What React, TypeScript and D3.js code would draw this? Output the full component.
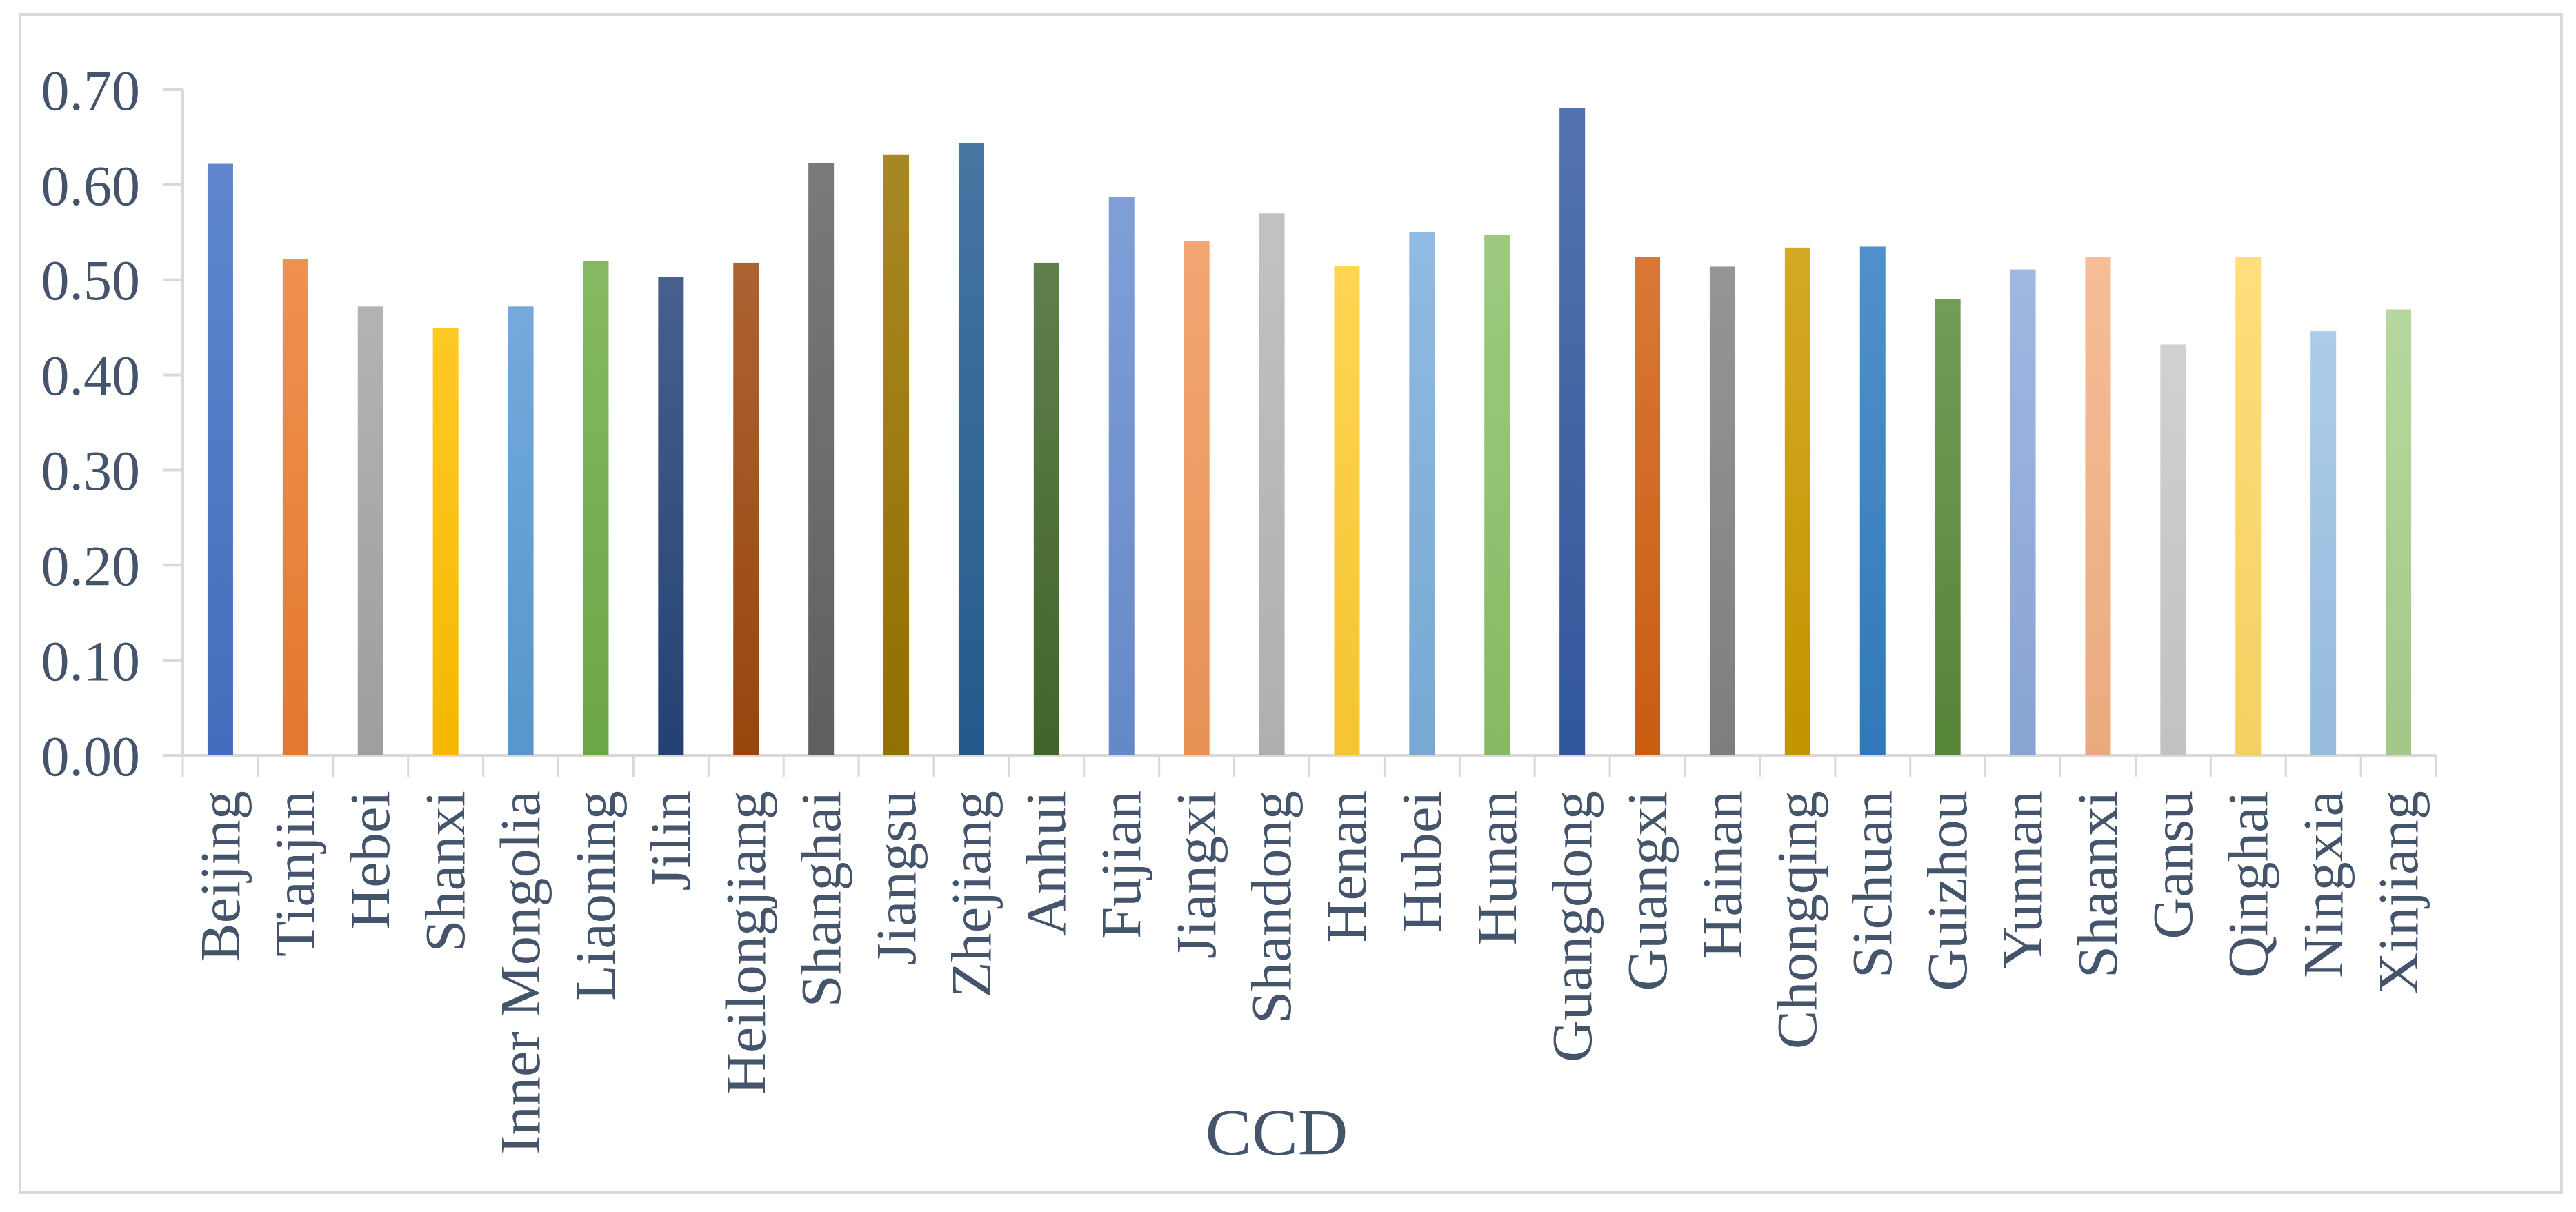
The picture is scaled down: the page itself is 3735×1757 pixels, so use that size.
import { useEffect } from 'react';
import * as d3 from 'd3';

// provinces along the x axis
const provinces = [
  'Beijing', 'Tianjin', 'Hebei', 'Shanxi', 'Inner Mongolia', 'Liaoning', 'Jilin',
  'Heilongjiang', 'Shanghai', 'Jiangsu', 'Zhejiang', 'Anhui', 'Fujian', 'Jiangxi',
  'Shandong', 'Henan', 'Hubei', 'Hunan', 'Guangdong', 'Guangxi', 'Hainan',
  'Chongqing', 'Sichuan', 'Guizhou', 'Yunnan', 'Shaanxi', 'Gansu', 'Qinghai',
  'Ningxia', 'Xinjiang',
];

// CCD values
const ccd = [
  0.622, 0.522, 0.472, 0.449, 0.472, 0.520, 0.503,
  0.518, 0.623, 0.632, 0.644, 0.518, 0.587, 0.541,
  0.570, 0.515, 0.550, 0.547, 0.681, 0.524, 0.514,
  0.534, 0.535, 0.480, 0.511, 0.524, 0.432, 0.524,
  0.446, 0.469,
];

// Office style "vary colours by point" palette
const barColors = [
  '#4472C4', '#ED7D31', '#A5A5A5', '#FFC000', '#5B9BD5', '#70AD47', '#264478',
  '#9E480E', '#636363', '#997300', '#255E91', '#43682B', '#698ED0', '#F1975A',
  '#B7B7B7', '#FFCD33', '#7CAFDD', '#8CC168', '#335AA1', '#D26012', '#848484',
  '#CC9A00', '#327DC2', '#5A8A39', '#8FAADC', '#F4B183', '#C9C9C9', '#FFD966',
  '#9DC3E6', '#A9D18E',
];

const yTicks = [0, 0.1, 0.2, 0.3, 0.4, 0.5, 0.6, 0.7];
const axisTitle = 'CCD';

const W = 3735;
const H = 1757;
const textColor = '#44546A';
const lineColor = '#D9D9D9';
const font = '"Liberation Serif", "Times New Roman", serif';

export default function App() {
  useEffect(() => {
    document.body.style.margin = '0';
    document.body.style.overflow = 'hidden';
  }, []);

  const margin = { left: 265, right: W - 3532, top: 130, bottom: H - 1095 };

  const x = d3.scaleBand<string>()
    .domain(provinces)
    .range([margin.left, W - margin.right])
    .padding(0);

  const y = d3.scaleLinear()
    .domain([0, 0.7])
    .range([H - margin.bottom, margin.top]);

  const bw = x.bandwidth();
  const barW = bw * 0.34;
  const fmt = d3.format('.2f');
  const y0 = y(0);

  return (
    <svg width={W} height={H} style={{ display: 'block', background: '#fff' }}>
      <defs>
        {barColors.map((c, i) => {
          const top = d3.interpolateRgb(c, '#ffffff')(0.15);
          const bottom = d3.color(c)!.darker(0.12).formatHex();
          return (
            <linearGradient key={i} id={`grad-${i}`} x1="0" y1="0" x2="0" y2="1">
              <stop offset="0%" stopColor={top} />
              <stop offset="100%" stopColor={bottom} />
            </linearGradient>
          );
        })}
      </defs>

      {/* chart border */}
      <rect x={29} y={21} width={3714 - 29} height={1729 - 21}
        fill="none" stroke={lineColor} strokeWidth={4} />

      {/* y axis line and ticks */}
      <line x1={margin.left} x2={margin.left} y1={y(0.7)} y2={y0}
        stroke={lineColor} strokeWidth={4} />
      {yTicks.map(t => (
        <g key={t}>
          <line x1={margin.left - 29} x2={margin.left} y1={y(t)} y2={y(t)}
            stroke={lineColor} strokeWidth={4} />
          <text x={203} y={y(t)} dy="0.35em" textAnchor="end"
            fontFamily={font} fontSize={82} fill={textColor}>{fmt(t)}</text>
        </g>
      ))}

      {/* x axis line and ticks */}
      <line x1={margin.left - 29} x2={W - margin.right} y1={y0} y2={y0}
        stroke={lineColor} strokeWidth={4} />
      {[...provinces.map(p => x(p)!), W - margin.right].map((px, i) => (
        <line key={i} x1={px} x2={px} y1={y0} y2={y0 + 32}
          stroke={lineColor} strokeWidth={3} />
      ))}

      {/* bars */}
      {provinces.map((p, i) => (
        <rect key={p}
          x={x(p)! + (bw - barW) / 2}
          y={y(ccd[i])}
          width={barW}
          height={y0 - y(ccd[i])}
          fill={`url(#grad-${i})`} />
      ))}

      {/* category labels */}
      {provinces.map(p => (
        <text key={p}
          transform={`translate(${x(p)! + bw / 2},${y0 + 51}) rotate(-90) scale(1.03,1)`}
          dy="0.33em" textAnchor="end"
          fontFamily={font} fontSize={82} fill={textColor}>{p}</text>
      ))}

      {/* axis title */}
      <text transform={`translate(1851,1674) scale(1.06,1)`} textAnchor="middle"
        fontFamily={font} fontSize={95} fill={textColor}>{axisTitle}</text>
    </svg>
  );
}
